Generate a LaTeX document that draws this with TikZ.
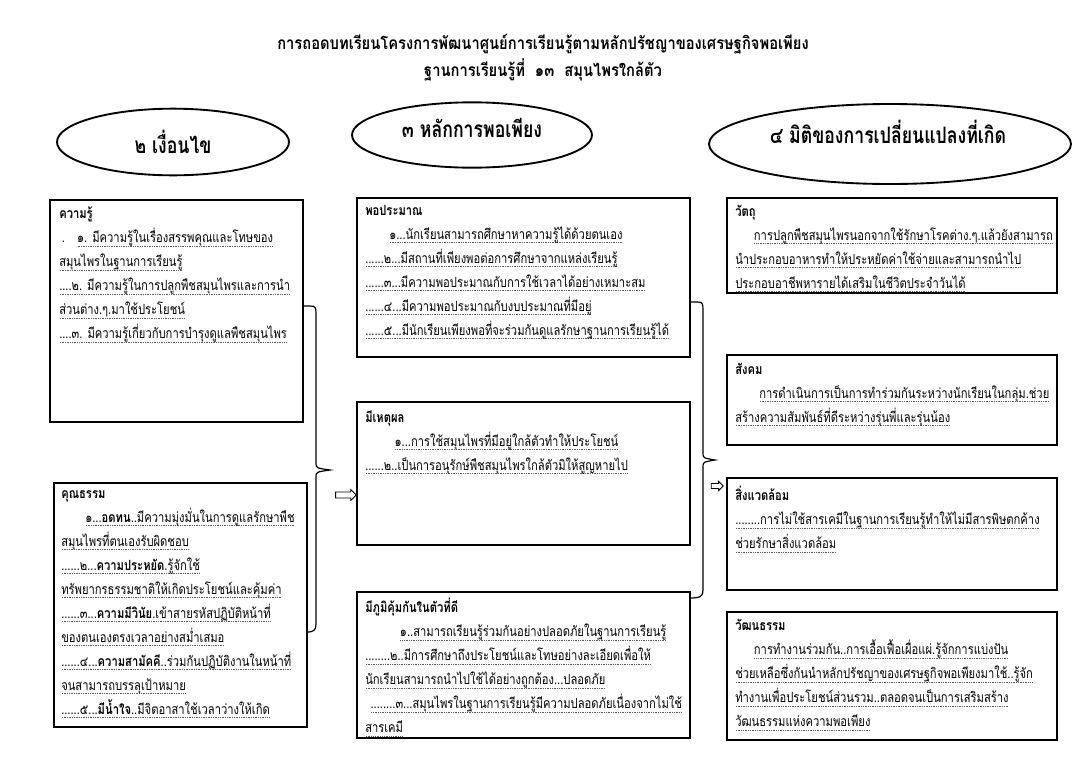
\documentclass[tikz,border=0pt]{standalone}
\usepackage{fontspec}
\usetikzlibrary{shapes.geometric,shapes.arrows,calc}
\setmainfont[Script=Thai]{Loma}
\newfontfamily\bodyf[Script=Thai,FakeStretch=0.8]{Loma}
\newfontfamily\headf[Script=Thai,FakeStretch=0.85]{Loma}
\newfontfamily\ovalf[Script=Thai,FakeStretch=0.78]{Loma}
\newcommand\dl[1]{\setbox0=\hbox{#1}\rlap{\raisebox{-2.6pt}{\hbox to \wd0{\color{black!65}\xleaders\hbox to 1.3pt{\hss\vrule width 0.55pt height 0.4pt\hss}\hfill}}}\box0}
\begin{document}
\begin{tikzpicture}[x=0.75pt,y=-0.75pt,
  box/.style={draw, line width=0.9pt, inner sep=0pt, outer sep=0pt, anchor=north west},
  txt/.style={inner sep=0pt, anchor=north west, align=left, font=\bodyf\fontsize{10.5}{18}\selectfont},
  oval/.style={draw, ellipse, line width=1.4pt, inner sep=0pt},
  ovaltxt/.style={inner sep=0pt, font=\ovalf\bfseries\fontsize{17}{19}\selectfont},
  conn/.style={line width=0.9pt},
  blockarrow/.style={draw, single arrow, line width=0.6pt, inner xsep=0pt, inner ysep=1.9pt, single arrow head extend=1.9pt, single arrow tip angle=90, minimum height=15.5pt}
]
\useasboundingbox (0,0) rectangle (1086,768);
% title
\node[font=\headf\bfseries\fontsize{13}{20.5}\selectfont, align=center, inner sep=0pt] (title) at (543,58)
  {การถอดบทเรียนโครงการพัฒนาศูนย์การเรียนรู้ตามหลักปรัชญาของเศรษฐกิจพอเพียง\\ฐานการเรียนรู้ที่\ \ ๑๓\ \ สมุนไพรใกล้ตัว};
% ellipses
\node[oval, minimum width=174pt, minimum height=50pt] (e1) at (173,142) {};
\node[ovaltxt] (e1t) at (173,142) {๒ เงื่อนไข};
\node[oval, minimum width=180pt, minimum height=49pt] (e2) at (472,135) {};
\node[ovaltxt] (e2t) at (472,128) {๓ หลักการพอเพียง};
\node[oval, minimum width=271.5pt, minimum height=60pt] (e3) at (890,144) {};
\node[ovaltxt] (e3t) at (888,132) {๔ มิติของการเปลี่ยนแปลงที่เกิด};
% left column
\node[box, minimum width=189.75pt, minimum height=166.5pt] (k1) at (50,200) {};
\node[txt] (k1t) at ($(k1.north west)+(9,7)$) {\textbf{ความรู้}\\
\hspace*{2pt}.\hspace*{9pt}\dl{๑. มีความรู้ในเรื่องสรรพคุณและโทษของ}\\
\dl{สมุนไพรในฐานการเรียนรู้}\\
\dl{....๒. มีความรู้ในการปลูกพืชสมุนไพรและการนำ}\\
\dl{ส่วนต่าง.ๆ.มาใช้ประโยชน์}\\
\dl{....๓. มีความรู้เกี่ยวกับการบำรุงดูแลพืชสมุนไพร}};
\node[box, minimum width=189.75pt, minimum height=183pt] (k2) at (54,483) {};
\node[txt] (k2t) at ($(k2.north west)+(7,7)$) {\textbf{คุณธรรม}\\
\hspace*{18pt}\dl{๑...\textbf{อดทน}..มีความมุ่งมั่นในการดูแลรักษาพืช}\\
\dl{สมุนไพรที่ตนเองรับผิดชอบ}\\
\dl{......๒...\textbf{ความประหยัด}.รู้จักใช้}\\
\dl{ทรัพยากรธรรมชาติให้เกิดประโยชน์และคุ้มค่า}\\
\dl{......๓...\textbf{ความมีวินัย}.เข้าสายรหัสปฏิบัติหน้าที่}\\
\dl{ของตนเองตรงเวลาอย่างสม่ำเสมอ}\\
\dl{......๔...\textbf{ความสามัคคี}..ร่วมกันปฏิบัติงานในหน้าที่}\\
\dl{จนสามารถบรรลุเป้าหมาย}\\
\dl{......๕...\textbf{มีน้ำใจ}..มีจิตอาสาใช้เวลาว่างให้เกิด}};
% middle column
\node[box, minimum width=249.75pt, minimum height=119.25pt] (m1) at (357,198) {};
\node[txt] (m1t) at ($(m1.north west)+(8,7)$) {\textbf{พอประมาณ}\\
\hspace*{18pt}\dl{๑...นักเรียนสามารถศึกษาหาความรู้ได้ด้วยตนเอง}\\
\dl{......๒...มีสถานที่เพียงพอต่อการศึกษาจากแหล่งเรียนรู้}\\
\dl{......๓...มีความพอประมาณกับการใช้เวลาได้อย่างเหมาะสม}\\
\dl{......๔...มีความพอประมาณกับงบประมาณที่มีอยู่}\\
\dl{......๕...มีนักเรียนเพียงพอที่จะร่วมกันดูแลรักษาฐานการเรียนรู้ได้}};
\node[box, minimum width=249.75pt, minimum height=107.25pt] (m2) at (357,402) {};
\node[txt] (m2t) at ($(m2.north west)+(8,8)$) {\textbf{มีเหตุผล}\\
\hspace*{22pt}\dl{๑...การใช้สมุนไพรที่มีอยู่ใกล้ตัวทำให้ประโยชน์}\\
\dl{......๒..เป็นการอนุรักษ์พืชสมุนไพรใกล้ตัวมิให้สูญหายไป}};
\node[box, minimum width=249.75pt, minimum height=109.5pt] (m3) at (357,592) {};
\node[txt] (m3t) at ($(m3.north west)+(8,6)$) {\textbf{มีภูมิคุ้มกันในตัวที่ดี}\\
\hspace*{26pt}\dl{๑..สามารถเรียนรู้ร่วมกันอย่างปลอดภัยในฐานการเรียนรู้}\\
\dl{........๒..มีการศึกษาถึงประโยชน์และโทษอย่างละเอียดเพื่อให้}\\
\dl{นักเรียนสามารถนำไปใช้ได้อย่างถูกต้อง...ปลอดภัย}\\
\hspace*{4pt}\dl{........๓...สมุนไพรในฐานการเรียนรู้มีความปลอดภัยเนื่องจากไม่ใช้}\\
\dl{สารเคมี}};
% right column
\node[box, minimum width=247.5pt, minimum height=71.25pt] (r1) at (727,198) {};
\node[txt] (r1t) at ($(r1.north west)+(8,7)$) {\textbf{วัตถุ}\\
\hspace*{14pt}\dl{การปลูกพืชสมุนไพรนอกจากใช้รักษาโรคต่าง.ๆ.แล้วยังสามารถ}\\
\dl{นำประกอบอาหารทำให้ประหยัดค่าใช้จ่ายและสามารถนำไป}\\
\dl{ประกอบอาชีพหารายได้เสริมในชีวิตประจำวันได้}};
\node[box, minimum width=247.5pt, minimum height=67.5pt] (r2) at (727,355) {};
\node[txt] (r2t) at ($(r2.north west)+(8,8)$) {\textbf{สังคม}\\
\hspace*{18pt}\dl{การดำเนินการเป็นการทำร่วมกันระหว่างนักเรียนในกลุ่ม.ช่วย}\\
\dl{สร้างความสัมพันธ์ที่ดีระหว่างรุ่นพี่และรุ่นน้อง}};
\node[box, minimum width=247.5pt, minimum height=84pt] (r3) at (727,478) {};
\node[txt] (r3t) at ($(r3.north west)+(8,8)$) {\textbf{สิ่งแวดล้อม}\\
\dl{........การไม่ใช้สารเคมีในฐานการเรียนรู้ทำให้ไม่มีสารพิษตกค้าง}\\
\dl{ช่วยรักษาสิ่งแวดล้อม}};
\node[box, minimum width=247.5pt, minimum height=96pt] (r4) at (727,612) {};
\node[txt] (r4t) at ($(r4.north west)+(8,7)$) {\textbf{วัฒนธรรม}\\
\hspace*{14pt}\dl{การทำงานร่วมกัน..การเอื้อเฟื้อเผื่อแผ่.รู้จักการแบ่งปัน}\\
\dl{ช่วยเหลือซึ่งกันนำหลักปรัชญาของเศรษฐกิจพอเพียงมาใช้..รู้จัก}\\
\dl{ทำงานเพื่อประโยชน์ส่วนรวม..ตลอดจนเป็นการเสริมสร้าง}\\
\dl{วัฒนธรรมแห่งความพอเพียง}};
% braces
\coordinate (lbA) at ($(k1.north east)+(0,106)$);
\coordinate (lbT) at (330,470);
\coordinate (lbB) at ($(k2.north east)+(0,149)$);
\draw[conn] (lbA) -- ++(7,0) .. controls +(5,0) and (316,307) .. (316,313) -- (316,463) .. controls (316,468) .. (lbT) .. controls (316,472) .. (316,477) -- (316,624) .. controls (316,630) and (314,632) .. (lbB);
\coordinate (mbA) at ($(m1.north east)+(0,104)$);
\coordinate (mbT) at (715,460);
\coordinate (mbB) at ($(m3.north east)+(0,6)$);
\draw[conn] (mbA) -- ++(7,0) .. controls +(5,0) and (703,303) .. (703,309) -- (703,453) .. controls (703,458) .. (mbT) .. controls (703,462) .. (703,467) -- (703,590) .. controls (703,596) and (701,598) .. (mbB);
% arrows
\node[blockarrow] (a1) at (344.5,495) {};
\node[blockarrow, minimum height=9pt, inner ysep=1.6pt, single arrow head extend=1.6pt] (a2) at (716,486) {};
\end{tikzpicture}
\end{document}
